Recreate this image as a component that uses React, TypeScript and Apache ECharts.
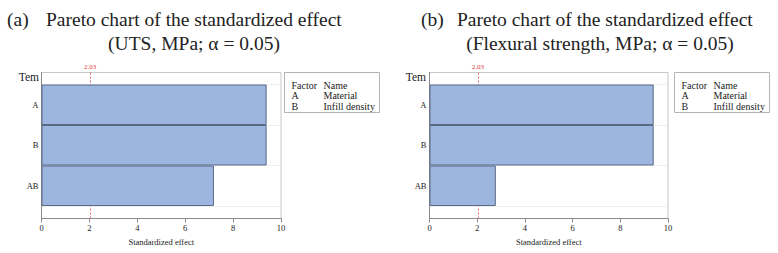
import React, { useEffect, useRef } from "react";
import * as echarts from "echarts";

// ---- data ----
const factors = ["A", "B", "AB"];
const utsEffects = [9.4, 9.4, 7.2];
const flexEffects = [9.4, 9.4, 2.78];
const criticalValue = 2.03;
const xMin = 0;
const xMax = 10;
const xStep = 2;
const legendRows: [string, string][] = [
  ["Factor", "Name"],
  ["A", "Material"],
  ["B", "Infill density"],
];
const panelLetters = ["(a)", "(b)"];
const titleLine1 = "Pareto chart of the standardized effect";
const titleLine2 = ["(UTS, MPa; \u03b1 = 0.05)", "(Flexural strength, MPa; \u03b1 = 0.05)"];
const axisTitle = "Standardized effect";
const termLabel = "Tem";

const SERIF = "'Liberation Serif', 'Times New Roman', serif";

function txt(x: number, y: number, text: string, size: number, align = "left", vAlign = "alphabetic", fill = "#222") {
  return {
    type: "text",
    x,
    y,
    silent: true,
    style: {
      text,
      fontSize: size,
      fontFamily: SERIF,
      fill,
      align,
      textAlign: align,
      verticalAlign: vAlign === "alphabetic" ? "bottom" : vAlign,
      textVerticalAlign: vAlign === "alphabetic" ? "bottom" : vAlign,
    },
  };
}

export default function App() {
  const ref = useRef<HTMLDivElement>(null);
  useEffect(() => {
    if (!ref.current) return;
    const chart = echarts.init(ref.current, undefined, { renderer: "svg", width: 778, height: 253 });

    const panels = [
      { left: 41.5, width: 239.5, values: utsEffects, letterX: 7, titleX: 46, line2X: 194, legendX: 284, temX: 39 },
      { left: 429.5, width: 238.5, values: flexEffects, letterX: 421, titleX: 457, line2X: 600, legendX: 674, temX: 426 },
    ];

    const grid: any[] = [];
    const xAxis: any[] = [];
    const yAxis: any[] = [];
    const series: any[] = [];
    const graphic: any[] = [];

    panels.forEach((p, i) => {
      const outer = i * 2;
      const inner = i * 2 + 1;
      grid.push({
        left: p.left,
        width: p.width,
        top: 72.5,
        height: 146,
        show: true,
        borderColor: "#c8c8c8",
        borderWidth: 1,
        backgroundColor: "transparent",
      });
      grid.push({ left: p.left, width: p.width, top: 84.5, height: 121.5 });

      xAxis.push({
        type: "value",
        gridIndex: outer,
        min: xMin,
        max: xMax,
        interval: xStep,
        axisLine: { show: true, lineStyle: { color: "#8a8a8a", width: 1 } },
        axisTick: { show: true, length: 4, lineStyle: { color: "#8a8a8a" } },
        axisLabel: { fontSize: 8.5, fontFamily: SERIF, color: "#1a1a1a", margin: 5 },
        splitLine: { show: false },
        name: axisTitle,
        nameLocation: "middle",
        nameGap: 18,
        nameTextStyle: { fontSize: 8.5, fontFamily: SERIF, color: "#1a1a1a" },
      });
      xAxis.push({ type: "value", gridIndex: inner, min: xMin, max: xMax, show: false });

      yAxis.push({
        type: "value",
        gridIndex: outer,
        min: 0,
        max: 1,
        axisLine: { show: true, lineStyle: { color: "#8a8a8a", width: 1 } },
        axisTick: { show: false },
        axisLabel: { show: false },
        splitLine: { show: false },
      });
      yAxis.push({
        type: "category",
        gridIndex: inner,
        data: factors,
        inverse: true,
        axisLine: { show: false },
        axisTick: { show: true, inside: true, length: 3, alignWithLabel: true, lineStyle: { color: "#8a8a8a" } },
        axisLabel: { fontSize: 8.5, fontFamily: SERIF, color: "#1a1a1a", margin: 3 },
        splitLine: { show: true, lineStyle: { color: "#dedede", type: [1, 1], width: 1 } },
      });

      series.push({
        type: "line",
        xAxisIndex: outer,
        yAxisIndex: outer,
        data: [],
        z: 1,
        silent: true,
        markLine: {
          silent: true,
          z: 1,
          symbol: "none",
          animation: false,
          lineStyle: { color: "#e56b6b", type: [2, 2], width: 1 },
          label: {
            show: true,
            position: "end",
            distance: 2,
            formatter: () => criticalValue.toFixed(2),
            fontSize: 7,
            fontFamily: SERIF,
            color: "#e03c3c",
          },
          data: [{ xAxis: criticalValue }],
        },
      });
      series.push({
        type: "bar",
        xAxisIndex: inner,
        yAxisIndex: inner,
        data: p.values,
        barCategoryGap: "0%",
        z: 3,
        itemStyle: { color: "#9cb6e0", borderColor: "#5a6a84", borderWidth: 1 },
      });

      // titles
      graphic.push(txt(p.letterX, 29.5, panelLetters[i], 19.5));
      graphic.push(txt(p.titleX, 29.5, titleLine1, 19.5));
      graphic.push(txt(p.line2X, 53.5, titleLine2[i], 19.5, "center"));
      // term label
      graphic.push(txt(p.temX, 77, termLabel, 11.5, "right", "middle"));
      // legend box
      graphic.push({
        type: "rect",
        silent: true,
        shape: { x: p.legendX + 0.5, y: 72.5, width: 95, height: 40 },
        style: { fill: "#fff", stroke: "#b4b4b4", lineWidth: 1 },
      });
      legendRows.forEach((row, r) => {
        graphic.push(txt(p.legendX + 7.5, 85 + r * 10.5, row[0], 10, "left", "middle"));
        graphic.push(txt(p.legendX + 39.5, 85 + r * 10.5, row[1], 10, "left", "middle"));
      });
    });

    chart.setOption({
      animation: false,
      backgroundColor: "#fff",
      textStyle: { color: "#1a1a1a", fontFamily: SERIF },
      grid,
      xAxis,
      yAxis,
      series,
      graphic,
    });
    return () => chart.dispose();
  }, []);

  return <div ref={ref} style={{ position: "fixed", left: 0, top: 0, width: 778, height: 253 }} />;
}
